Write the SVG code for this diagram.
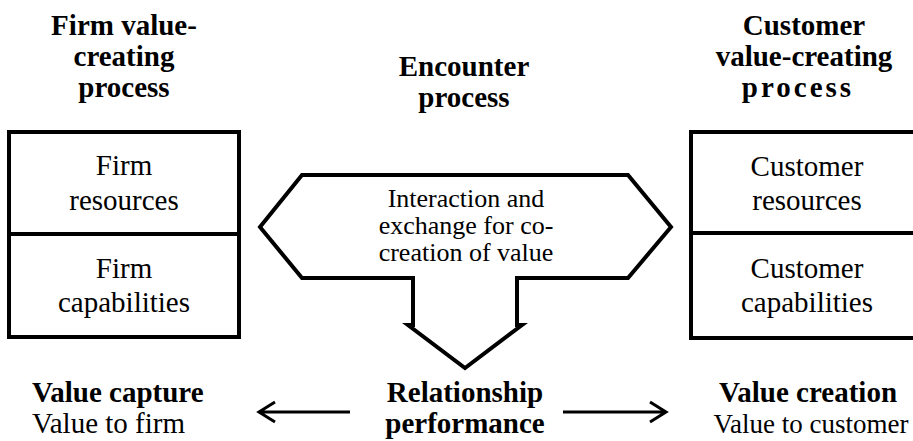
<svg xmlns="http://www.w3.org/2000/svg" width="913" height="441" viewBox="0 0 913 441">
<defs>
<style>
.h{font-family:"Liberation Serif","Times New Roman",serif;font-weight:bold;font-size:29px;fill:#000;text-anchor:middle}
.t{font-family:"Liberation Serif","Times New Roman",serif;font-size:29px;fill:#000;text-anchor:middle}
.s{font-family:"Liberation Serif","Times New Roman",serif;font-size:26px;fill:#000;text-anchor:middle}
.box{fill:#fff;stroke:#000;stroke-width:4}
.arr{fill:none;stroke:#000;stroke-width:3}
</style>
</defs>
<rect width="913" height="441" fill="#fff"/>
<g id="firm-header">
<text class="h" x="124" y="35">Firm value-</text>
<text class="h" x="124" y="66">creating</text>
<text class="h" x="124" y="97">process</text>
</g>
<g id="encounter-header">
<text class="h" x="464" y="76">Encounter</text>
<text class="h" x="464" y="107">process</text>
</g>
<g id="customer-header">
<text class="h" x="804" y="35">Customer</text>
<text class="h" x="804" y="66">value-creating</text>
<text class="h" x="798" y="97" style="letter-spacing:3px">process</text>
</g>
<g id="firm-box">
<rect class="box" x="9" y="132" width="230" height="205"/>
<line x1="9" y1="234" x2="239" y2="234" stroke="#000" stroke-width="4"/>
<text class="t" x="124" y="175">Firm</text>
<text class="t" x="124" y="210">resources</text>
<text class="t" x="124" y="278">Firm</text>
<text class="t" x="124" y="312">capabilities</text>
</g>
<g id="customer-box">
<rect class="box" x="691" y="132" width="240" height="206"/>
<line x1="691" y1="233" x2="931" y2="233" stroke="#000" stroke-width="4"/>
<text class="t" x="807" y="176">Customer</text>
<text class="t" x="807" y="210">resources</text>
<text class="t" x="807" y="278">Customer</text>
<text class="t" x="807" y="312">capabilities</text>
</g>
<g id="encounter-shape">
<path class="box" d="M260,227 L302,175 L628,175 L671,227 L628,278 L517,278 L517,325 L522,325 L465,368 L408,325 L413,325 L413,278 L302,278 Z"/>
<text class="s" x="466" y="207">Interaction and</text>
<text class="s" x="466" y="234">exchange for co-</text>
<text class="s" x="466" y="261">creation of value</text>
</g>
<g id="value-capture">
<text class="h" x="32" y="402" style="text-anchor:start">Value capture</text>
<text class="t" x="32" y="433" style="text-anchor:start">Value to firm</text>
</g>
<g id="relationship">
<text class="h" x="465" y="402">Relationship</text>
<text class="h" x="465" y="433">performance</text>
</g>
<g id="value-creation">
<text class="h" x="808" y="402">Value creation</text>
<text class="t" x="811" y="433" style="font-size:27px">Value to customer</text>
</g>
<g id="connectors">
<path class="arr" d="M350,412 L259,412 M275,402 L259,412 L275,422"/>
<path class="arr" d="M563,412 L666,412 M650,402 L666,412 L650,422"/>
</g>
</svg>
